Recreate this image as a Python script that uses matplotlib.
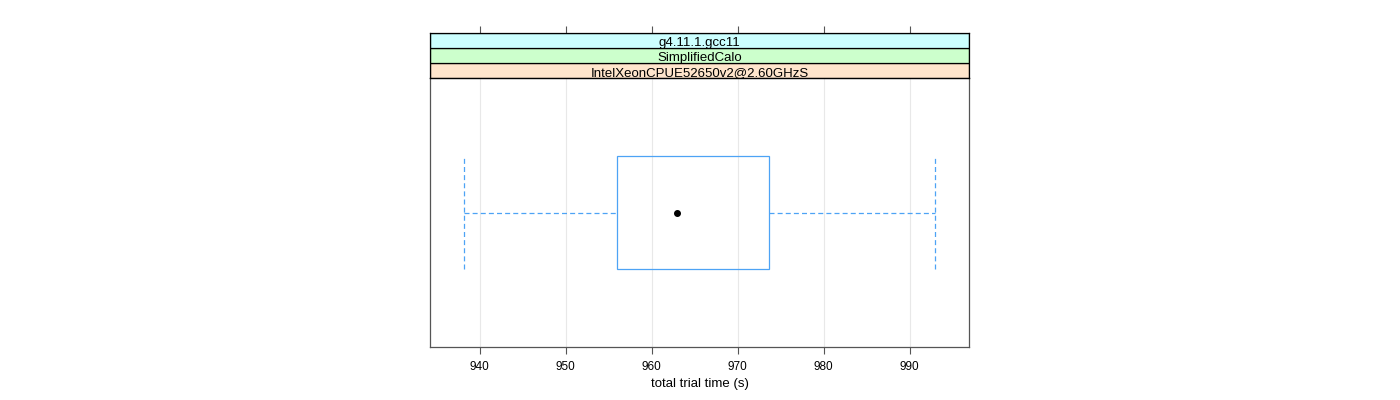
import matplotlib
matplotlib.use("Agg")
import matplotlib.pyplot as plt
from matplotlib.patches import Rectangle

plt.rcParams["font.family"] = ["Liberation Sans", "DejaVu Sans"]

# strip labels, innermost (next to panel) first
strip_labels = ["IntelXeonCPUE52650v2@2.60GHzS", "SimplifiedCalo", "g4.11.1.gcc11"]
strip_colors = ["#ffe5cc", "#ccffcc", "#ccffff"]

# box statistics (seconds)
whisker_low = 938.1
q1 = 955.9
median = 962.9
q3 = 973.6
whisker_high = 993.0

xticks = [940, 950, 960, 970, 980, 990]
xlim = (934.2, 996.9)

box_col = "#4da3f5"
frame_col = "#555555"

fig = plt.figure(figsize=(14, 4), dpi=100)
W, H = 1400, 400
left, right = 430, 969
ptop, pbot = 78, 347
stop = 33

ax = fig.add_axes([left / W, 1 - pbot / H, (right - left) / W, (pbot - ptop) / H])
sax = fig.add_axes([left / W, 1 - ptop / H, (right - left) / W, (ptop - stop) / H])

# panel
ax.set_xlim(xlim)
ax.set_ylim(0.4, 1.6)
for x in xticks:
    ax.axvline(x, color="#e8e8e8", lw=0.8, zorder=0)

y0 = 1.0
hw = 0.25
dash = (0, (4, 2.5))
ax.add_patch(Rectangle((q1, y0 - hw), q3 - q1, 2 * hw, fill=False,
                       edgecolor=box_col, lw=0.9, zorder=2))
ax.plot([whisker_low, q1], [y0, y0], color=box_col, lw=0.9, ls=dash)
ax.plot([q3, whisker_high], [y0, y0], color=box_col, lw=0.9, ls=dash)
ax.plot([whisker_low, whisker_low], [y0 - hw, y0 + hw], color=box_col, lw=0.9, ls=dash)
ax.plot([whisker_high, whisker_high], [y0 - hw, y0 + hw], color=box_col, lw=0.9, ls=dash)
ax.plot([median], [y0], "o", color="black", ms=4, zorder=3)

ax.set_xticks(xticks)
ax.set_xticklabels([str(t) for t in xticks], fontsize=8.5)
ax.set_yticks([])
ax.tick_params(axis="x", direction="out", length=5, width=0.8, color=frame_col, pad=5)
for s in ax.spines.values():
    s.set_color(frame_col)
    s.set_linewidth(0.9)
ax.set_xlabel("total trial time (s)", fontsize=9.5, labelpad=4)

# strips
sax.set_xlim(xlim)
sax.set_ylim(0, 3)
for i, (lab, col) in enumerate(zip(strip_labels, strip_colors)):
    sax.add_patch(Rectangle((xlim[0], i), xlim[1] - xlim[0], 1, facecolor=col,
                            edgecolor="black", lw=0.9))
    sax.text((xlim[0] + xlim[1]) / 2, i + 0.45, lab, ha="center", va="center_baseline",
             fontsize=9.5)
sax.set_yticks([])
sax.set_xticks(xticks)
sax.xaxis.set_ticks_position("top")
sax.tick_params(axis="x", direction="out", length=5, width=0.8, color=frame_col,
                labeltop=False, labelbottom=False)
for s in sax.spines.values():
    s.set_color("black")
    s.set_linewidth(0.9)

fig.savefig("out.png", dpi=100, facecolor="white")
